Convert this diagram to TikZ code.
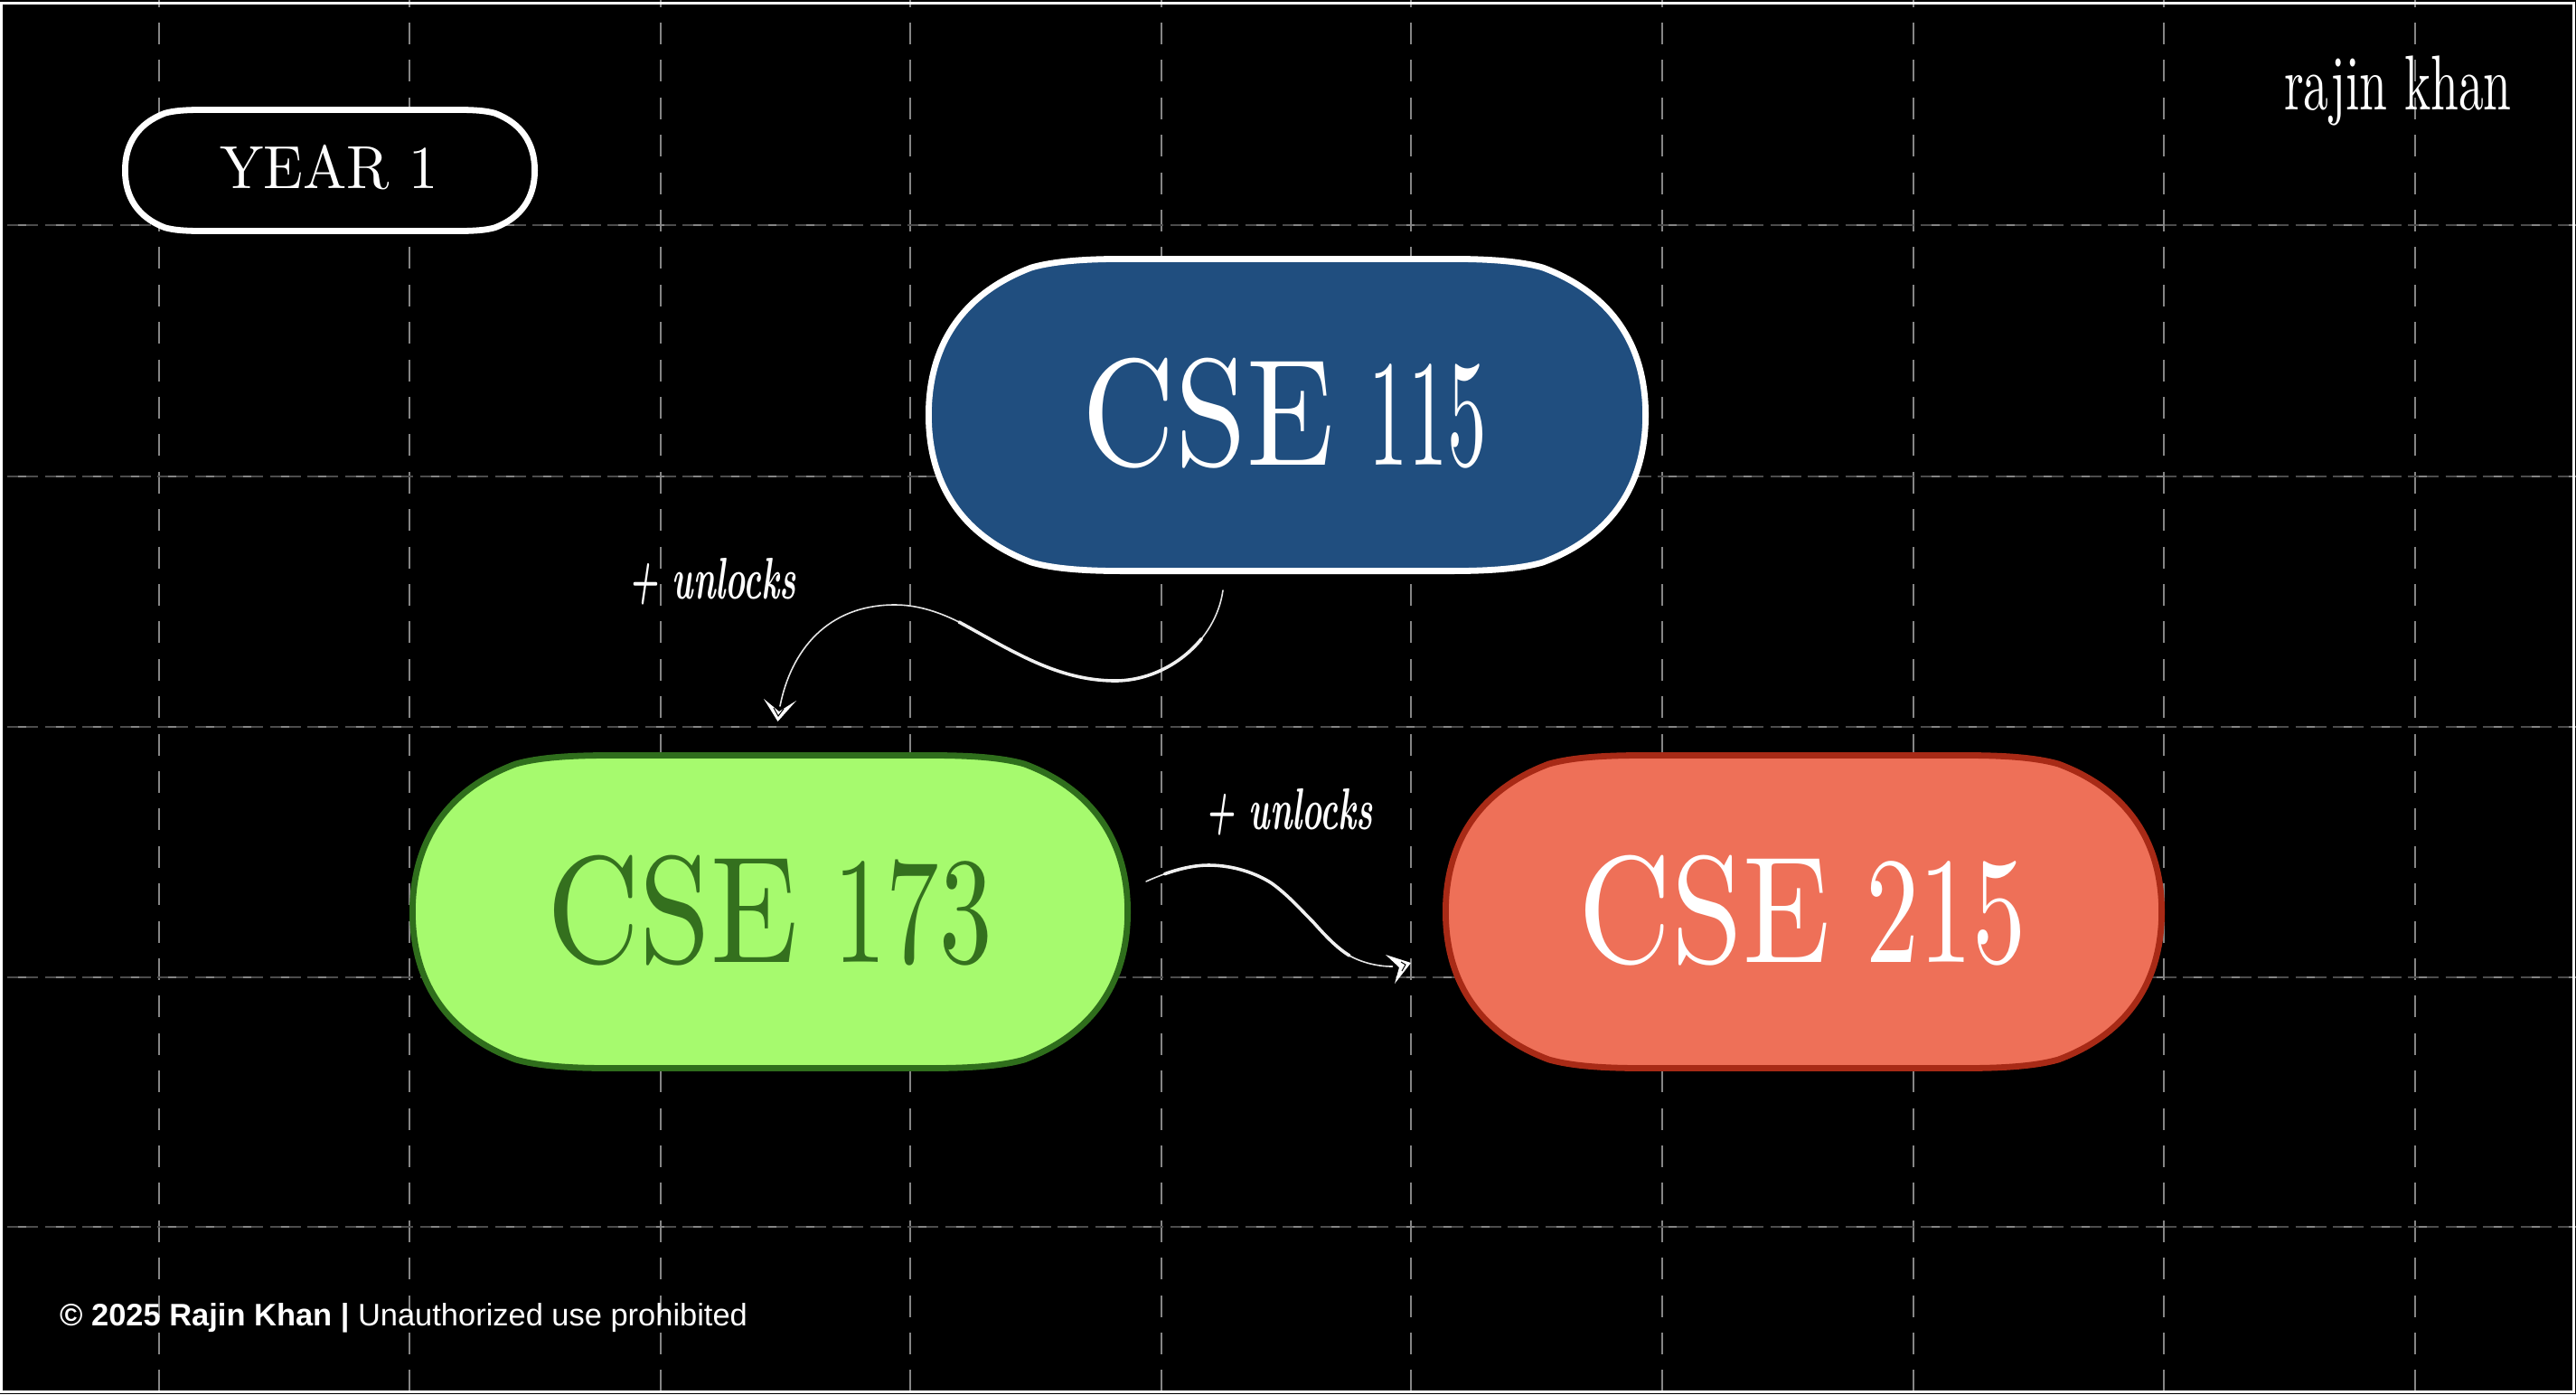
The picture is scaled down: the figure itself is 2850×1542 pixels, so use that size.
\documentclass[tikz,border=0pt]{standalone}
\usepackage{fontspec}
\usepackage{graphicx}
\usetikzlibrary{calc}
\newfontfamily\footerfont{Liberation Sans}
\definecolor{blueFill}{HTML}{204E7F}
\definecolor{greenFill}{HTML}{A6FA6E}
\definecolor{greenLine}{HTML}{2F6E1C}
\definecolor{greenText}{HTML}{34701E}
\definecolor{redFill}{HTML}{EE7058}
\definecolor{redLine}{HTML}{A82A16}
\definecolor{gridDim}{gray}{0.30}
\definecolor{gridMid}{gray}{0.52}
\tikzset{
  vgrid/.style={draw=gridMid,line width=2pt,dash pattern=on 24pt off 17.4pt,dash phase=16.4pt},
  hgrid/.style={draw=gridDim,line width=2.6pt,dash pattern=on 34pt off 7.5pt,dash phase=33.5pt},
  hgridb/.style={draw=gridMid,line width=2pt,dash pattern=on 9pt off 32.5pt,dash phase=21.5pt},
  pillbox/.style={inner sep=0pt,outer sep=0pt,align=center},
  coursebox/.style={pillbox,minimum width=798pt,minimum height=352pt},
  brushthin/.style={draw=white!90!black,line width=1.6pt,line cap=round},
  brushthick/.style={draw=white!94!black,line width=3.6pt,line cap=round},
  headfill/.style={fill=white,draw=none},
  headmark/.style={draw=black,line width=1pt},
  scripttext/.style={inner sep=0pt,anchor=base west,text=white},
}
% squircle-like pill: style, centre x, centre y, half width, half height
\newcommand{\pillshape}[5]{%
  \path[#1]
    ({#2-#4},{#3})
    .. controls ({#2-#4},{#3-.45*#5}) and ({#2-#4+.22*#5},{#3-.78*#5}) .. ({#2-#4+.66*#5},{#3-.945*#5})
    .. controls ({#2-#4+.80*#5},{#3-.985*#5}) and ({#2-#4+1.0*#5},{#3-#5}) .. ({#2-#4+1.25*#5},{#3-#5})
    -- ({#2+#4-1.25*#5},{#3-#5})
    .. controls ({#2+#4-1.0*#5},{#3-#5}) and ({#2+#4-.80*#5},{#3-.985*#5}) .. ({#2+#4-.66*#5},{#3-.945*#5})
    .. controls ({#2+#4-.22*#5},{#3-.78*#5}) and ({#2+#4},{#3-.45*#5}) .. ({#2+#4},{#3})
    .. controls ({#2+#4},{#3+.45*#5}) and ({#2+#4-.22*#5},{#3+.78*#5}) .. ({#2+#4-.66*#5},{#3+.945*#5})
    .. controls ({#2+#4-.80*#5},{#3+.985*#5}) and ({#2+#4-1.0*#5},{#3+#5}) .. ({#2+#4-1.25*#5},{#3+#5})
    -- ({#2-#4+1.25*#5},{#3+#5})
    .. controls ({#2-#4+1.0*#5},{#3+#5}) and ({#2-#4+.80*#5},{#3+.985*#5}) .. ({#2-#4+.66*#5},{#3+.945*#5})
    .. controls ({#2-#4+.22*#5},{#3+.78*#5}) and ({#2-#4},{#3+.45*#5}) .. cycle;%
}
\newcommand{\tenpt}[3]{\scalebox{#1}[#2]{\fontsize{10}{10}\selectfont #3}}
\newcommand{\coursetext}[2]{{\tenpt{14.2}{16.8}{CSE}\fontsize{130}{130}\selectfont\ \tenpt{#2}{16.8}{#1}}}
\newcommand{\unlockstext}{\scalebox{3.75}[6.5]{\fontsize{10}{10}\selectfont\bfseries\itshape + unlocks}}
\begin{document}
\begin{tikzpicture}[x=1pt,y=-1pt]
\useasboundingbox (0,0) rectangle (2850,1542);
\fill[black] (0,0) rectangle (2850,1542);
% grid
\foreach \gx in {176,453,731,1007,1285,1561,1839,2117,2394,2672}
  \draw[vgrid] (\gx,0) -- (\gx,1542);
\foreach \gy in {249,527,804,1081,1357}{
  \draw[hgrid] (0,\gy) -- (2850,\gy);
  \draw[hgridb] (0,\gy) -- (2850,\gy);
}
% border
\draw[white,line width=3pt] (1.5,3.5) rectangle (2847,1539.5);
% pills
\pillshape{fill=black,draw=white,line width=6.8pt}{365}{188.5}{226.6}{67}
\node[pillbox,text=white,minimum width=460pt,minimum height=141pt] (year) at (364,185)
  {\tenpt{6.44}{6.73}{YEAR 1}};
\pillshape{fill=blueFill,draw=white,line width=6.8pt}{1424}{459}{396.6}{172.6}
\node[coursebox,text=white] (cse115) at (1421.5,457) {\coursetext{115}{8.7}};
\pillshape{fill=greenFill,draw=greenLine,line width=6.8pt}{852}{1008.5}{395.6}{173}
\node[coursebox,text=greenText] (cse173) at (851.5,1007) {\coursetext{173}{11.7}};
\pillshape{fill=redFill,draw=redLine,line width=6.8pt}{1995.5}{1008.5}{396.1}{173}
\node[coursebox,text=white] (cse215) at (1994,1007) {\coursetext{215}{11.8}};
% connector end points
\coordinate (aS) at ($(cse115.south)+(-68.5,20)$);
\coordinate (aE) at ($(cse173.north)+(11.5,-50)$);
\coordinate (bS) at ($(cse173.east)+(17.5,-32)$);
\coordinate (bE) at ($(cse215.west)+(-54.5,62)$);
% connector 1
\draw[brushthin] (aS) .. controls (1345,710) and (1290,753) .. (1234,753)
   .. controls (1170,753) and (1120,720) .. (1061,688)
   .. controls (1035,675) and (1012,669) .. (990,669)
   .. controls (915,669) and (875,720) .. (aE);
\draw[brushthick] (1329.3,706.5) .. controls (1306.4,734.8) and (1270.4,753) .. (1234,753)
   .. controls (1170,753) and (1120,720) .. (1061,688);
\fill[headfill] (845,773) -- (862,787) -- (881,775) -- (860.5,798) -- cycle;
\draw[headmark] (856,783) -- (861,792) -- (867,784);
% connector 2
\draw[brushthin] (bS) .. controls (1290,965) and (1315,957) .. (1337,957)
   .. controls (1365,957) and (1390,966) .. (1407,977)
   .. controls (1425,990) and (1438,1005) .. (1453,1020)
   .. controls (1468,1037) and (1480,1049) .. (1493,1057)
   .. controls (1507,1065) and (1525,1069) .. (bE);
\draw[brushthick] (1288.4,966.7) .. controls (1304.7,960.9) and (1321.6,957) .. (1337,957)
   .. controls (1365,957) and (1390,966) .. (1407,977)
   .. controls (1425,990) and (1438,1005) .. (1453,1020)
   .. controls (1468,1037) and (1480,1049) .. (1493,1057);
\fill[headfill] (1533,1056) -- (1561,1065) -- (1543,1088) -- (1548,1070) -- cycle;
\draw[headmark] (1550,1064) -- (1555,1067) -- (1551,1074);
% labels
\node[scripttext] (lab1) at (695,662) {\unlockstext};
\node[scripttext] (lab2) at (1333,917) {\unlockstext};
\node[scripttext] (brand) at (2527,121) {\tenpt{5.55}{8.6}{rajin khan}};
\node[scripttext] (foot) at (66,1466) {\footerfont\fontsize{34.45}{35}\selectfont\textbf{© 2025 Rajin Khan |} Unauthorized use prohibited};
\end{tikzpicture}
\end{document}
